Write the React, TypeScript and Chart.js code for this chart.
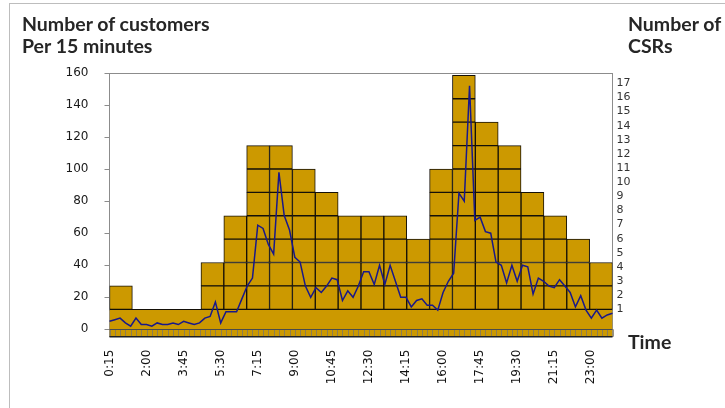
import React, { useEffect, useRef } from 'react';
import { Chart, registerables } from 'chart.js';

Chart.register(...registerables);

// 15-minute time slots across the day
const timeSlots = [
  '0:15', '0:30', '0:45', '1:00', '1:15', '1:30', '1:45', '2:00', '2:15', '2:30', '2:45', '3:00',
  '3:15', '3:30', '3:45', '4:00', '4:15', '4:30', '4:45', '5:00', '5:15', '5:30', '5:45', '6:00',
  '6:15', '6:30', '6:45', '7:00', '7:15', '7:30', '7:45', '8:00', '8:15', '8:30', '8:45', '9:00',
  '9:15', '9:30', '9:45', '10:00', '10:15', '10:30', '10:45', '11:00', '11:15', '11:30', '11:45', '12:00',
  '12:15', '12:30', '12:45', '13:00', '13:15', '13:30', '13:45', '14:00', '14:15', '14:30', '14:45', '15:00',
  '15:15', '15:30', '15:45', '16:00', '16:15', '16:30', '16:45', '17:00', '17:15', '17:30', '17:45', '18:00',
  '18:15', '18:30', '18:45', '19:00', '19:15', '19:30', '19:45', '20:00', '20:15', '20:30', '20:45', '21:00',
  '21:15', '21:30', '21:45', '22:00', '22:15', '22:30', '22:45', '23:00', '23:15', '23:30', '23:45', '24:00',
];

// Slots that carry a visible label on the time axis
const labelledSlots = [
  '0:15', '2:00', '3:45', '5:30', '7:15', '9:00', '10:45',
  '12:30', '14:15', '16:00', '17:45', '19:30', '21:15', '23:00',
];

// Arriving customers per 15 minutes
const customers = [
  5, 6, 7, 4, 2, 7, 3, 3, 2, 4, 3, 3, 4, 3, 5, 4, 3, 4, 7, 8, 17, 4, 11, 11,
  11, 19, 27, 32, 65, 63, 53, 47, 98, 71, 62, 45, 42, 27, 20, 26, 23, 27, 32, 31, 18, 24, 20, 27,
  36, 36, 28, 40, 28, 40, 30, 20, 20, 14, 18, 19, 15, 15, 12, 23, 30, 35, 85, 80, 152, 68, 70, 61,
  60, 42, 40, 29, 40, 30, 40, 39, 22, 32, 30, 27, 26, 31, 27, 23, 14, 21, 12, 7, 12, 7, 9, 10,
];

// Staffing blocks and the number of CSRs scheduled in each
const staffBlocks = [
  'S1', 'S2', 'S3', 'S4', 'S5', 'S6', 'S7', 'S8', 'S9', 'S10', 'S11',
  'S12', 'S13', 'S14', 'S15', 'S16', 'S17', 'S18', 'S19', 'S20', 'S21', 'S22',
];
const csrsScheduled = [2, 1, 1, 1, 3, 5, 8, 8, 7, 6, 5, 5, 5, 4, 7, 11, 9, 8, 6, 5, 4, 3];

// The first CSR is on duty all day
const wholeDay = ['All day'];

// Customer capacity: first CSR, then each additional CSR
const firstCsrCapacity = 12.5;
const extraCsrCapacity = 14.6;

const customerTicks = [0, 20, 40, 60, 80, 100, 120, 140, 160];
const csrTicks = [1, 2, 3, 4, 5, 6, 7, 8, 9, 10, 11, 12, 13, 14, 15, 16, 17];

const customerAxisMin = -4.6;
const customerAxisMax = 160;
const csrAxisMin = -0.94;
const csrAxisMax = 17.73;

const GOLD = '#CC9900';
const CELL_EDGE = '#141008';
const LINE_BLUE = '#18188a';

const tickFont = { family: '"DejaVu Sans", sans-serif', size: 12 };

// Zero line, category tick strip and plot frame
const plotFrame = {
  id: 'plotFrame',
  afterDatasetsDraw(chart: any) {
    const { ctx, chartArea: a, scales } = chart;
    const xs = scales.x;
    const y0 = scales.y.getPixelForValue(0);
    ctx.save();
    ctx.lineWidth = 1;
    ctx.strokeStyle = 'rgba(125,118,100,0.8)';
    ctx.beginPath();
    for (let i = 0; i < timeSlots.length; i++) {
      const px = Math.round(xs.getPixelForValue(i)) + 0.5;
      ctx.moveTo(px, y0);
      ctx.lineTo(px, a.bottom);
    }
    ctx.stroke();
    ctx.strokeStyle = '#4a4a4a';
    ctx.beginPath();
    ctx.moveTo(a.left, Math.round(y0) + 0.5);
    ctx.lineTo(a.right, Math.round(y0) + 0.5);
    ctx.stroke();
    ctx.strokeStyle = '#1e1e1e';
    ctx.lineWidth = 1.5;
    ctx.beginPath();
    ctx.moveTo(a.left, a.bottom);
    ctx.lineTo(a.right, a.bottom);
    ctx.stroke();
    ctx.strokeStyle = '#8c8c8c';
    ctx.lineWidth = 1;
    ctx.beginPath();
    ctx.moveTo(a.left, Math.round(a.top) + 0.5);
    ctx.lineTo(a.right, Math.round(a.top) + 0.5);
    ctx.stroke();
    ctx.restore();
  },
};

export default function App() {
  const canvasRef = useRef<HTMLCanvasElement | null>(null);

  useEffect(() => {
    const canvas = canvasRef.current;
    if (!canvas) return;

    const maxExtra = Math.max(...csrsScheduled) - 1;
    const cellSets: any[] = [];
    for (let k = 1; k <= maxExtra; k++) {
      cellSets.push({
        type: 'bar',
        xAxisID: 'x2',
        yAxisID: 'y',
        data: csrsScheduled.map((n) =>
          n - 1 >= k
            ? [firstCsrCapacity + (k - 1) * extraCsrCapacity, firstCsrCapacity + k * extraCsrCapacity]
            : null
        ),
        backgroundColor: GOLD,
        borderColor: CELL_EDGE,
        borderWidth: 1,
        borderSkipped: false,
        grouped: false,
        barPercentage: 1,
        categoryPercentage: 1,
        order: 2,
      });
    }

    const firstCsrBand = {
      type: 'bar',
      xAxisID: 'x3',
      yAxisID: 'y',
      data: wholeDay.map(() => [customerAxisMin, firstCsrCapacity]),
      backgroundColor: GOLD,
      borderColor: CELL_EDGE,
      borderWidth: { top: 1, left: 0, right: 0, bottom: 0 },
      borderSkipped: false,
      grouped: false,
      barPercentage: 1,
      categoryPercentage: 1,
      order: 3,
    };

    const arrivals = {
      type: 'line',
      xAxisID: 'x',
      yAxisID: 'y',
      data: customers,
      borderColor: LINE_BLUE,
      borderWidth: 1.5,
      pointRadius: 0,
      tension: 0,
      fill: false,
      order: 0,
    };

    const chart = new Chart(canvas, {
      type: 'bar',
      data: {
        labels: timeSlots,
        datasets: [firstCsrBand, ...cellSets, arrivals] as any,
      },
      options: {
        responsive: false,
        animation: false,
        devicePixelRatio: 1,
        layout: { padding: { top: 73, left: 0, right: 0, bottom: 0 } },
        plugins: {
          legend: { display: false },
          tooltip: { enabled: false },
        },
        scales: {
          x: {
            type: 'category',
            labels: timeSlots,
            offset: false,
            position: 'bottom',
            grid: { display: false, drawTicks: false },
            border: { display: false },
            ticks: {
              autoSkip: false,
              minRotation: 90,
              maxRotation: 90,
              padding: 13,
              color: '#111',
              font: tickFont,
              callback: (_v: any, i: number) =>
                labelledSlots.includes(timeSlots[i]) ? timeSlots[i] : '',
            },
            afterFit: (s: any) => {
              s.height = 408 - 336.7;
            },
          },
          x2: {
            type: 'category',
            labels: staffBlocks,
            offset: true,
            display: false,
          },
          x3: {
            type: 'category',
            labels: wholeDay,
            offset: true,
            display: false,
          },
          y: {
            type: 'linear',
            position: 'left',
            min: customerAxisMin,
            max: customerAxisMax,
            afterBuildTicks: (s: any) => {
              s.ticks = customerTicks.map((v) => ({ value: v }));
            },
            afterFit: (s: any) => {
              s.width = 109.5;
            },
            grid: { drawOnChartArea: false, drawTicks: true, tickLength: 5, color: '#8c8c8c' },
            border: { display: true, color: '#8c8c8c' },
            ticks: { padding: 16, color: '#1a1a1a', font: tickFont },
          },
          y2: {
            type: 'linear',
            position: 'right',
            min: csrAxisMin,
            max: csrAxisMax,
            afterBuildTicks: (s: any) => {
              s.ticks = csrTicks.map((v) => ({ value: v }));
            },
            afterFit: (s: any) => {
              s.width = 725 - 612.5;
            },
            grid: { display: false, drawTicks: false },
            border: { display: true, color: '#8c8c8c' },
            ticks: {
              padding: 4,
              color: '#333',
              font: { family: '"DejaVu Sans", sans-serif', size: 11 },
            },
          },
        },
      } as any,
      plugins: [plotFrame],
    });

    return () => chart.destroy();
  }, []);

  const titleStyle: React.CSSProperties = {
    position: 'absolute',
    fontFamily: 'Lato, "Open Sans", sans-serif',
    fontWeight: 700,
    fontSize: 19.5,
    lineHeight: '21.6px',
    color: '#262626',
    whiteSpace: 'nowrap',
    margin: 0,
  };

  return (
    <div
      style={{
        position: 'fixed',
        left: 0,
        top: 0,
        width: 725,
        height: 408,
        overflow: 'hidden',
        background: '#fff',
      }}
    >
      <div
        style={{
          position: 'absolute',
          left: 9,
          top: 3,
          width: 740,
          height: 440,
          border: '1px solid #bdbdbd',
          boxSizing: 'border-box',
        }}
      />
      <canvas ref={canvasRef} width={725} height={408} style={{ position: 'absolute', left: 0, top: 0 }} />
      <div style={{ ...titleStyle, left: 22, top: 13.3 }}>
        Number of customers
        <br />
        Per 15 minutes
      </div>
      <div style={{ ...titleStyle, left: 628, top: 13.3 }}>
        Number of
        <br />
        CSRs
      </div>
      <div style={{ ...titleStyle, left: 628, top: 330.6 }}>Time</div>
    </div>
  );
}
